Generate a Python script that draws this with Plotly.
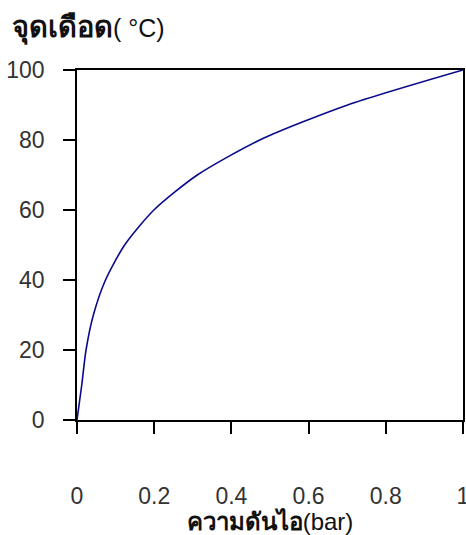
import plotly.graph_objects as go

# Vapour pressure of water (bar) and its boiling point (°C)
pressure_bar = [0.0, 0.0123, 0.0234, 0.0424, 0.0738, 0.1234, 0.1992, 0.3116, 0.4736, 0.7011, 1.0]
boiling_c = [0, 10, 20, 30, 40, 50, 60, 70, 80, 90, 100]

x_ticks = [0, 0.2, 0.4, 0.6, 0.8, 1]
x_tick_text = ["0", "0.2", "0.4", "0.6", "0.8", "1"]
y_ticks = [0, 20, 40, 60, 80, 100]

x_title = "<b>ความดันไอ</b>(bar)"
y_title = "<b><span style='font-size:29px'>จุดเดือด</span></b>( °C)"

fig = go.Figure()
fig.add_trace(go.Scatter(
    x=pressure_bar, y=boiling_c, mode="lines",
    line=dict(color="#0a0a8c", width=1.6, shape="spline", smoothing=0.7),
    showlegend=False, hoverinfo="skip",
))

tick_font = dict(family="Liberation Sans, Arial, sans-serif", size=23, color="#333333")

fig.update_layout(
    width=466, height=535,
    margin=dict(l=77, r=3, t=70, b=115, autoexpand=False),
    paper_bgcolor="white", plot_bgcolor="white",
    font=dict(family="Liberation Sans, Arial, sans-serif", color="#111111"),
    xaxis=dict(
        range=[0, 1], tickvals=x_ticks, ticktext=x_tick_text,
        showline=True, linecolor="black", linewidth=1.6, mirror=True,
        ticks="outside", ticklen=12, tickwidth=1.5, tickcolor="black",
        ticklabelstandoff=43, ticklabeloverflow="allow", tickfont=tick_font,
        showgrid=False, zeroline=False, automargin=False,
        title=dict(text=x_title, font=dict(size=24, color="#111111"), standoff=2),
    ),
    yaxis=dict(
        range=[0, 100], tickvals=y_ticks,
        showline=True, linecolor="black", linewidth=1.6, mirror=True,
        ticks="outside", ticklen=12, tickwidth=1.5, tickcolor="black",
        ticklabelstandoff=14, tickfont=tick_font,
        showgrid=False, zeroline=False, automargin=False,
    ),
    annotations=[dict(
        text=y_title, xref="paper", yref="paper",
        x=-67 / 386, y=1 + 42 / 350, xanchor="left", yanchor="middle",
        showarrow=False, font=dict(size=25, color="#111111"),
    )],
)

fig.write_html("out.html")
